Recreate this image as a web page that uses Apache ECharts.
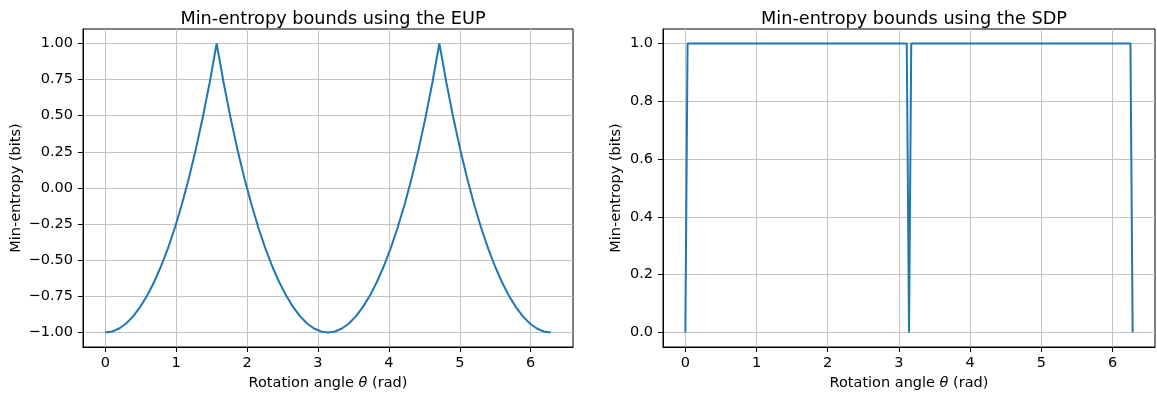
<!DOCTYPE html>
<html>
<head>
<meta charset="utf-8">
<script src="https://cdn.jsdelivr.net/npm/echarts@6/dist/echarts.min.js"></script>
<style>
html,body{margin:0;padding:0;background:#fff;}
#chart{width:1157px;height:396px;}
</style>
</head>
<body>
<div id="chart"></div>
<script>
// ---- Data ----
var eupTheta = [0, 0.098, 0.196, 0.295, 0.393, 0.491, 0.589, 0.687, 0.785, 0.884, 0.982, 1.080, 1.178, 1.276, 1.374, 1.473, 1.571,
  1.669, 1.767, 1.865, 1.963, 2.062, 2.160, 2.258, 2.356, 2.454, 2.553, 2.651, 2.749, 2.847, 2.945, 3.043, 3.142,
  3.240, 3.338, 3.436, 3.534, 3.632, 3.731, 3.829, 3.927, 4.025, 4.123, 4.222, 4.320, 4.418, 4.516, 4.614, 4.712,
  4.811, 4.909, 5.007, 5.105, 5.203, 5.301, 5.400, 5.498, 5.596, 5.694, 5.792, 5.890, 5.989, 6.087, 6.185, 6.283];
var eupBound = [-1, -0.993, -0.972, -0.937, -0.888, -0.824, -0.746, -0.652, -0.543, -0.418, -0.275, -0.114, 0.065, 0.265, 0.486, 0.730, 1.0,
  0.730, 0.486, 0.265, 0.065, -0.114, -0.275, -0.418, -0.543, -0.652, -0.746, -0.824, -0.888, -0.937, -0.972, -0.993, -1,
  -0.993, -0.972, -0.937, -0.888, -0.824, -0.746, -0.652, -0.543, -0.418, -0.275, -0.114, 0.065, 0.265, 0.486, 0.730, 1.0,
  0.730, 0.486, 0.265, 0.065, -0.114, -0.275, -0.418, -0.543, -0.652, -0.746, -0.824, -0.888, -0.937, -0.972, -0.993, -1];
var sdpTheta = [0, 0.031, 3.110, 3.142, 3.173, 6.252, 6.283];
var sdpBound = [0, 1, 1, 0, 1, 1, 0];

var xTicks = [0, 1, 2, 3, 4, 5, 6];
var eupYTicks = [-1, -0.75, -0.5, -0.25, 0, 0.25, 0.5, 0.75, 1];
var sdpYTicks = [0, 0.2, 0.4, 0.6, 0.8, 1.0];

var titles = ['Min-entropy bounds using the EUP', 'Min-entropy bounds using the SDP'];
var yName = 'Min-entropy (bits)';

// ---- Chart ----
var FONT = 'DejaVu Sans';
var GRID_C = '#c4c4c4';
var FS = 14.5;
function pairs(xs, ys){ return xs.map(function(x,i){ return [x, ys[i]]; }); }
function minus(s){ return s.replace('-', '\u2212'); }

function xAxisCfg(gi){
  return {
    type:'value', gridIndex:gi, min:-0.314, max:6.597,
    name:'{n|Rotation angle }{t|θ}{n| (rad)}', nameLocation:'middle', nameGap:29,
    nameTextStyle:{ rich:{ n:{fontFamily:FONT,fontSize:FS,color:'#000'}, t:{fontFamily:FONT,fontSize:FS,fontStyle:'italic',color:'#000'} }, verticalAlign:'top' },
    axisLine:{show:true,onZero:false,lineStyle:{color:'#000',width:1}},
    axisTick:{show:true,inside:false,length:5,customValues:xTicks,lineStyle:{color:'#000',width:1}},
    axisLabel:{customValues:xTicks,margin:9,fontFamily:FONT,fontSize:FS,color:'#000',formatter:function(v){return String(v);}},
    splitLine:{show:true,lineStyle:{color:GRID_C,width:1}}
  };
}
function yAxisCfg(gi, ticks, mn, mx, dec, gap){
  return {
    type:'value', gridIndex:gi, min:mn, max:mx,
    name:yName, nameLocation:'middle', nameGap:gap,
    nameTextStyle:{fontFamily:FONT,fontSize:FS,color:'#000'},
    axisLine:{show:true,onZero:false,lineStyle:{color:'#000',width:1}},
    axisTick:{show:true,inside:false,length:5,customValues:ticks,lineStyle:{color:'#000',width:1}},
    axisLabel:{customValues:ticks,margin:10,fontFamily:FONT,fontSize:FS,color:'#000',formatter:function(v){return minus(v.toFixed(dec));}},
    splitLine:{show:true,lineStyle:{color:GRID_C,width:1}}
  };
}

var chart = echarts.init(document.getElementById('chart'), null, {renderer:'canvas'});
chart.setOption({
  animation:false,
  backgroundColor:'#fff',
  title:[
    {text:titles[0], left:328, top:5, textAlign:'center', textStyle:{fontFamily:FONT,fontSize:17.7,fontWeight:'normal',color:'#000'}},
    {text:titles[1], left:909, top:5, textAlign:'center', textStyle:{fontFamily:FONT,fontSize:17.7,fontWeight:'normal',color:'#000'}}
  ],
  grid:[
    {left:83, right:584, top:29, bottom:49, show:true, borderColor:'#000', borderWidth:1, backgroundColor:'transparent'},
    {left:663, right:2, top:29, bottom:49, show:true, borderColor:'#000', borderWidth:1, backgroundColor:'transparent'}
  ],
  xAxis:[xAxisCfg(0), xAxisCfg(1)],
  yAxis:[yAxisCfg(0, eupYTicks, -1.1, 1.1, 2, 59), yAxisCfg(1, sdpYTicks, -0.05, 1.05, 1, 39)],
  series:[
    {type:'line', xAxisIndex:0, yAxisIndex:0, data:pairs(eupTheta, eupBound), showSymbol:false, lineStyle:{color:'#1f77b4',width:2}, itemStyle:{color:'#1f77b4'}},
    {type:'line', xAxisIndex:1, yAxisIndex:1, data:pairs(sdpTheta, sdpBound), showSymbol:false, lineStyle:{color:'#1f77b4',width:2}, itemStyle:{color:'#1f77b4'}}
  ]
});
</script>
</body>
</html>
